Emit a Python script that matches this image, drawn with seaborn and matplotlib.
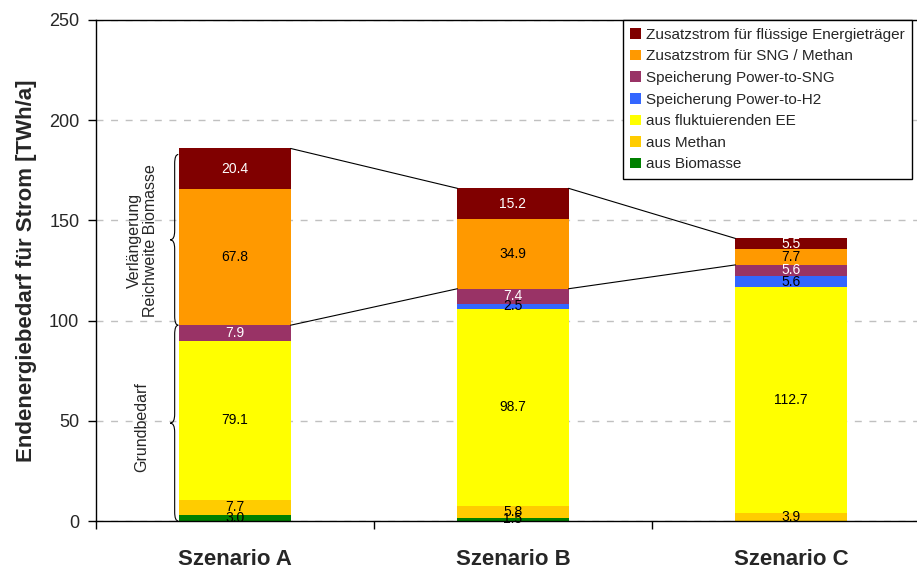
import numpy as np
import pandas as pd
import matplotlib
matplotlib.use("Agg")
import matplotlib.pyplot as plt
import seaborn as sns
from matplotlib.patches import Patch, PathPatch
from matplotlib.path import Path

# ---------------------------------------------------------------- data
szenarien = ["Szenario A", "Szenario B", "Szenario C"]

# stack order from bottom to top
kategorien = [
    "aus Biomasse",
    "aus Methan",
    "aus fluktuierenden EE",
    "Speicherung Power-to-H2",
    "Speicherung Power-to-SNG",
    "Zusatzstrom für SNG / Methan",
    "Zusatzstrom für flüssige Energieträger",
]
aus_biomasse = [3.0, 1.5, 0.0]
aus_methan = [7.7, 5.8, 3.9]
aus_fluktuierenden_ee = [79.1, 98.7, 112.7]
power_to_h2 = [0.0, 2.5, 5.6]
power_to_sng = [7.9, 7.4, 5.6]
zusatz_sng_methan = [67.8, 34.9, 7.7]
zusatz_fluessig = [20.4, 15.2, 5.5]

y_ticks = [0, 50, 100, 150, 200, 250]

farben = ["#008000", "#FFCC00", "#FFFF00", "#3366FF", "#993366", "#FF9900", "#800000"]
textfarben = ["black", "black", "black", "black", "white", "black", "white"]

# ---------------------------------------------------------------- style
sns.set_theme(style="white")
plt.rcParams["font.family"] = ["Liberation Sans", "DejaVu Sans"]

werte = np.array([aus_biomasse, aus_methan, aus_fluktuierenden_ee,
                  power_to_h2, power_to_sng, zusatz_sng_methan, zusatz_fluessig])
kumuliert = werte.cumsum(axis=0)
n_kat = len(kategorien)

df = pd.DataFrame({
    "Szenario": szenarien * n_kat,
    "Kategorie": np.repeat(kategorien, len(szenarien)),
    "Wert": werte.ravel(),
    "Oben": kumuliert.ravel(),
})

W, H = 917, 569
fig = plt.figure(figsize=(W / 100, H / 100), dpi=100)
ax = fig.add_axes([96 / W, 1 - 521 / H, (930 - 96) / W, (521 - 20) / H])

breite = 0.4
# stacked bars: draw cumulative heights from the top layer downwards
for i in reversed(range(n_kat)):
    sub = df[df["Kategorie"] == kategorien[i]]
    sns.barplot(data=sub, x="Szenario", y="Oben", order=szenarien,
                color=farben[i], saturation=1, width=breite,
                errorbar=None, linewidth=0, edgecolor="none", ax=ax)

# value labels centred in each segment
for i in range(n_kat):
    for j in range(len(szenarien)):
        v = werte[i, j]
        if v <= 0:
            continue
        ax.text(j, kumuliert[i, j] - v / 2, f"{v:.1f}", ha="center", va="center",
                fontsize=10, color=textfarben[i], zorder=5)

# connecting lines between totals and between the base demand tops
gesamt = kumuliert[-1]
grund = kumuliert[4]
for j in range(len(szenarien) - 1):
    for reihe in (gesamt, grund):
        ax.plot([j + breite / 2, j + 1 - breite / 2], [reihe[j], reihe[j + 1]],
                color="black", lw=0.8, zorder=4)


def klammer(ax, x_ende, x_mitte, x_spitze, y0, y1, r=4.5):
    ym = (y0 + y1) / 2
    verts = [
        (x_ende, y0),
        (x_mitte, y0), (x_mitte, y0 + r),
        (x_mitte, ym - r),
        (x_mitte, ym), (x_spitze, ym),
        (x_mitte, ym), (x_mitte, ym + r),
        (x_mitte, y1 - r),
        (x_mitte, y1), (x_ende, y1),
    ]
    codes = [Path.MOVETO,
             Path.CURVE3, Path.CURVE3,
             Path.LINETO,
             Path.CURVE3, Path.CURVE3,
             Path.CURVE3, Path.CURVE3,
             Path.LINETO,
             Path.CURVE3, Path.CURVE3]
    ax.add_patch(PathPatch(Path(verts, codes), facecolor="none",
                           edgecolor="black", lw=0.8, zorder=4, clip_on=False))


kante = 0 - breite / 2
klammer(ax, kante - 0.004, kante - 0.017, kante - 0.033, 0.0, grund[0])
klammer(ax, kante - 0.004, kante - 0.017, kante - 0.033, grund[0], gesamt[0] - 3.0)

ax.text(kante - 0.135, grund[0] / 2 - 2, "Grundbedarf", rotation=90,
        ha="center", va="center", fontsize=11.5)
ax.text(kante - 0.133, (grund[0] + gesamt[0]) / 2 - 2,
        "Verlängerung\nReichweite Biomasse", rotation=90,
        ha="center", va="center", multialignment="center", fontsize=11.5,
        linespacing=1.05)

# ---------------------------------------------------------------- axes
ax.set_xlim(-0.5, 2.5)
ax.set_ylim(0, 250)
ax.set_yticks(y_ticks)
ax.set_xticks(range(len(szenarien)))
ax.set_xticklabels(szenarien, fontsize=16, fontweight="bold")
ax.set_xticks([-0.5, 0.5, 1.5, 2.5], minor=True)
ax.tick_params(axis="x", which="major", length=0, pad=20)
ax.tick_params(axis="x", which="minor", direction="out", length=6, width=1,
               color="black", bottom=True)
ax.tick_params(axis="y", direction="out", length=6, width=1, color="black",
               left=True, labelsize=13, pad=6)
ax.set_xlabel("")
ax.set_ylabel("Endenergiebedarf für Strom [TWh/a]", fontsize=16,
              fontweight="bold", labelpad=9)

ax.set_axisbelow(True)
ax.yaxis.grid(True, color="#c0c0c0", lw=1.0, linestyle=(0, (5, 5.5)))
ax.xaxis.grid(False)

for s in ("left", "bottom", "top"):
    ax.spines[s].set_visible(True)
    ax.spines[s].set_color("black")
    ax.spines[s].set_linewidth(1.0)
ax.spines["right"].set_visible(False)

# legend, top layer first
handles = [Patch(facecolor=farben[i], edgecolor="none", label=kategorien[i])
           for i in reversed(range(n_kat))]
leg = ax.legend(handles=handles, loc="upper right",
                bbox_to_anchor=(912 / W, 1 - 20 / H), bbox_transform=fig.transFigure,
                frameon=True, fancybox=False, edgecolor="black", framealpha=1,
                fontsize=11, handlelength=0.7, handleheight=0.7,
                handletextpad=0.3, labelspacing=0.5, borderpad=0.5,
                borderaxespad=0)
leg.get_frame().set_linewidth(1.0)
leg.set_zorder(10)

fig.savefig("out.png", dpi=100)
